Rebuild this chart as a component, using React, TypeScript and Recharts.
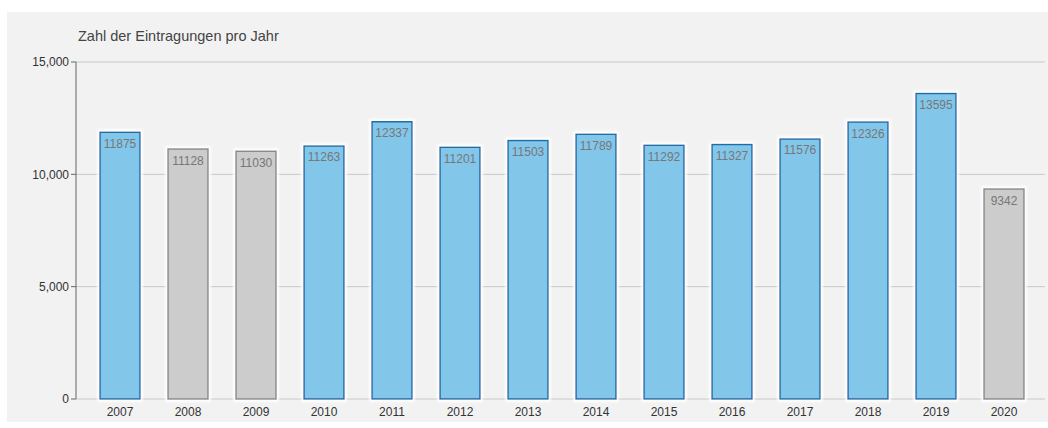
import { BarChart, Bar, XAxis, YAxis, CartesianGrid, LabelList, Cell } from "recharts"

const years = ["2007", "2008", "2009", "2010", "2011", "2012", "2013", "2014", "2015", "2016", "2017", "2018", "2019", "2020"]
const entries = [11875, 11128, 11030, 11263, 12337, 11201, 11503, 11789, 11292, 11327, 11576, 12326, 13595, 9342]
const greyYears = ["2008", "2009", "2020"]
const yTicks = [0, 5000, 10000, 15000]

const data = years.map((year, i) => ({ year, value: entries[i] }))

export default function App() {
  return (
    <div
      style={{
        position: "absolute",
        left: 7,
        top: 12,
        width: 1041,
        height: 410,
        background: "#f2f2f2",
        fontFamily: "'Liberation Sans', Arial, sans-serif",
      }}
    >
      <div style={{ position: "absolute", left: 71, top: 16, fontSize: 14.5, color: "#444" }}>
        Zahl der Eintragungen pro Jahr
      </div>
      <BarChart
        width={1041}
        height={410}
        data={data}
        margin={{ top: 50, right: 3, left: 0, bottom: 3 }}
        barSize={40}
      >
        <defs>
          <filter id="glow" x="-20%" y="-10%" width="140%" height="120%">
            <feMorphology in="SourceAlpha" operator="dilate" radius="2" result="d" />
            <feGaussianBlur in="d" stdDeviation="1" result="b" />
            <feFlood floodColor="#ffffff" />
            <feComposite in2="b" operator="in" result="w" />
            <feMerge>
              <feMergeNode in="w" />
              <feMergeNode in="SourceGraphic" />
            </feMerge>
          </filter>
        </defs>
        <CartesianGrid vertical={false} stroke="#c8c8c8" />
        <XAxis
          dataKey="year"
          padding={{ left: 10, right: 7 }}
          axisLine={false}
          tickLine={false}
          height={20}
          tick={{ fontSize: 12, fill: "#333" }}
        />
        <YAxis
          width={69}
          domain={[0, 15000]}
          ticks={yTicks}
          tickFormatter={(v: number) => v.toLocaleString("en-US")}
          axisLine={{ stroke: "#666" }}
          tickLine={{ stroke: "#666" }}
          tickSize={5}
          tick={{ fontSize: 12, fill: "#333" }}
        />
        <Bar dataKey="value" isAnimationActive={false} strokeWidth={1.5}>
          {data.map((d) => (
            <Cell
              key={d.year}
              fill={greyYears.includes(d.year) ? "#cccccc" : "#82c6ea"}
              stroke={greyYears.includes(d.year) ? "#8a8a8a" : "#1f6ea6"}
              filter="url(#glow)"
            />
          ))}
          <LabelList dataKey="value" position="insideTop" offset={7} fill="#777" fontSize={12} />
        </Bar>
      </BarChart>
    </div>
  )
}
